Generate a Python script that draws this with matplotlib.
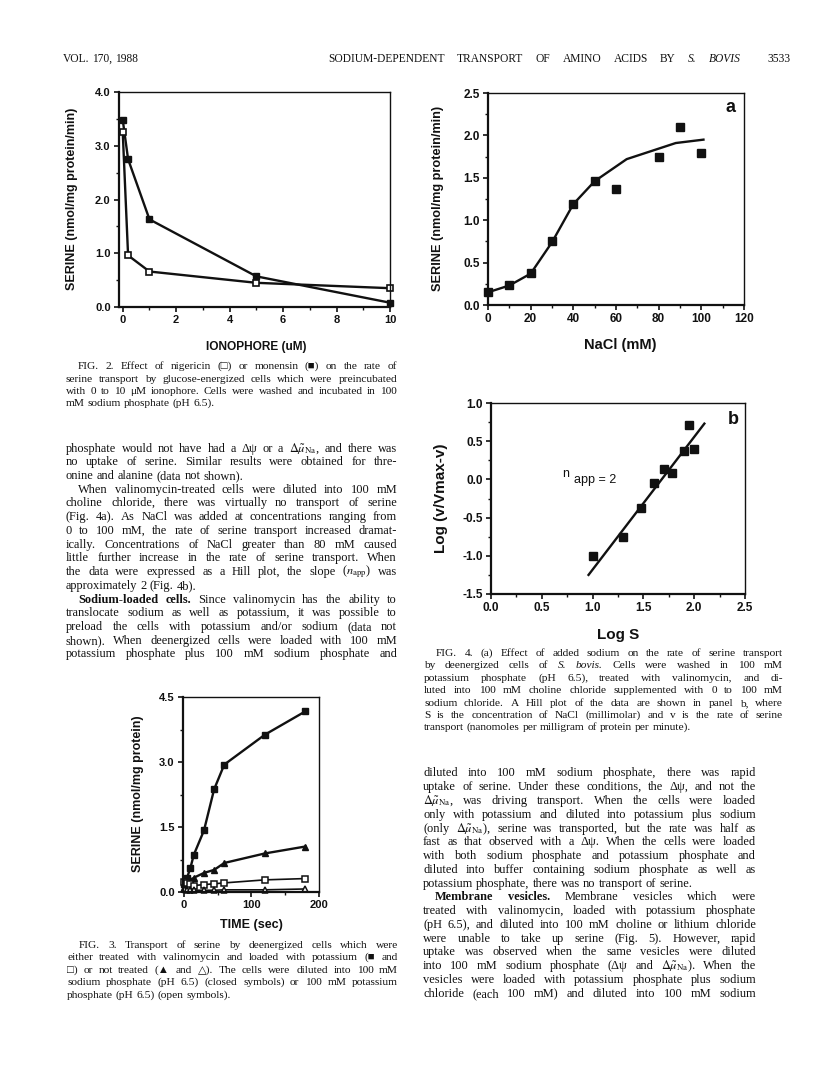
import matplotlib
matplotlib.use("Agg")
import matplotlib.pyplot as plt
from matplotlib.ticker import MultipleLocator, FormatStrFormatter

plt.rcParams['mathtext.fontset'] = 'stix'

W, H = 816, 1077
SERIF = 'Liberation Serif'
SERIF_FB = ['Liberation Serif', 'DejaVu Serif']
SANS = ['Liberation Sans', 'DejaVu Sans']
INK = '#111111'

# ---- FIG. 2: serine rate vs ionophore ----
iono_um = [0, 0.2, 1, 5, 10]
monensin = [3.48, 2.75, 1.63, 0.57, 0.08]
nigericin = [3.25, 0.96, 0.66, 0.45, 0.35]

# ---- FIG. 4a: serine rate vs NaCl ----
nacl_mm = [0, 10, 20, 30, 40, 50, 60, 80, 90, 100]
nacl_serine = [0.15, 0.23, 0.38, 0.75, 1.19, 1.46, 1.37, 1.74, 2.10, 1.79]
fit_nacl = [0, 10, 20, 30, 40, 50, 65, 88, 101]
fit_serine = [0.15, 0.23, 0.37, 0.74, 1.19, 1.46, 1.72, 1.91, 1.95]

# ---- FIG. 4b: Hill plot ----
log_s = [1.0, 1.30, 1.48, 1.60, 1.70, 1.78, 1.90, 1.95, 2.0]
log_v = [-1.0, -0.76, -0.37, -0.05, 0.14, 0.08, 0.37, 0.71, 0.40]
hill_x = [0.96, 2.10]
hill_y = [-1.25, 0.73]

# ---- FIG. 3: serine uptake vs time ----
time_s = [0, 5, 10, 15, 30, 45, 60, 120, 180]
val_na = [0.18, 0.33, 0.56, 0.86, 1.42, 2.37, 2.94, 3.63, 4.17]
noval_na = [0.10, 0.22, 0.27, 0.33, 0.44, 0.51, 0.67, 0.89, 1.05]
val_k = [0.24, 0.21, 0.18, 0.15, 0.17, 0.19, 0.21, 0.28, 0.31]
noval_k = [0.06, 0.05, 0.05, 0.04, 0.04, 0.04, 0.05, 0.05, 0.07]

fig = plt.figure(figsize=(W / 100, H / 100), dpi=100)
fig.patch.set_facecolor('white')
renderer = fig.canvas.get_renderer()


def px_axes(l, t, r, b):
    return fig.add_axes([l / W, 1 - b / H, (r - l) / W, (b - t) / H])


def setup(ax, xlim, ylim, xmaj, xmin, ymaj, ymin, xfmt, yfmt, size=8):
    ax.set_xlim(*xlim)
    ax.set_ylim(*ylim)
    ax.xaxis.set_major_locator(MultipleLocator(xmaj))
    ax.xaxis.set_minor_locator(MultipleLocator(xmin))
    ax.yaxis.set_major_locator(MultipleLocator(ymaj))
    ax.yaxis.set_minor_locator(MultipleLocator(ymin))
    ax.xaxis.set_major_formatter(FormatStrFormatter(xfmt))
    ax.yaxis.set_major_formatter(FormatStrFormatter(yfmt))
    ax.tick_params(which='major', length=3.5, width=1.2, direction='out',
                   labelsize=size, pad=2.5, colors=INK)
    ax.tick_params(which='minor', length=2.2, width=1.0, direction='out', colors=INK)
    for lab in ax.get_xticklabels() + ax.get_yticklabels():
        lab.set_fontweight('bold')
        lab.set_family(SANS)
    for s in ['left', 'bottom']:
        ax.spines[s].set_linewidth(1.6)
    for s in ['top', 'right']:
        ax.spines[s].set_linewidth(1.0)
    for s in ax.spines.values():
        s.set_color(INK)


def label(x, y, s, size, rot=0, weight='bold', ha='center', va='center'):
    fig.text(x / W, 1 - y / H, s, fontsize=size, rotation=rot, weight=weight,
             family=SANS, ha=ha, va=va, color=INK)


def styled(tok):
    # '**word' -> bold, '__word' -> italic
    if tok.startswith('**'):
        return tok[2:], dict(weight='bold')
    if tok.startswith('__'):
        return tok[2:], dict(style='italic')
    return tok, {}


def put_line(line, x0, x1, y, size, justify=True):
    # one text per word, spread to fill the column
    arts = []
    for tok in line.split(' '):
        s, extra = styled(tok)
        fam = SERIF_FB if any(c in s for c in '■□▲△') else SERIF
        arts.append(fig.text(x0 / W, 1 - y / H, s, fontsize=size, family=fam,
                             ha='left', va='baseline', color=INK, **extra))
    widths = [a.get_window_extent(renderer).width for a in arts]
    gap = size * 100 / 72 * 0.25
    if justify and len(arts) > 1:
        gap = (x1 - x0 - sum(widths)) / (len(arts) - 1)
    x = x0
    for a, w in zip(arts, widths):
        a.set_x(x / W)
        x += w + gap


def paragraph(lines, x0, x1, y0, step, size, indent=12, starts=(0,), lasts=()):
    for i, ln in enumerate(lines):
        xs = x0 + (indent if i in starts else 0)
        put_line(ln, xs, x1, round(y0 + i * step), size, justify=i not in lasts)


# ---- page header ----
put_line('VOL. 170, 1988', 63, 126, 62, 8.3, justify=False)
put_line('SODIUM-DEPENDENT TRANSPORT OF AMINO ACIDS BY __S. __BOVIS', 328, 741, 62, 8.3)
put_line('3533', 767, 786, 62, 8.3, justify=False)

# ---- FIG. 2 ----
ax2 = px_axes(119, 92, 390, 307)
ax2.plot(iono_um, monensin, '-s', color=INK, lw=1.7, ms=5, mfc=INK, mec=INK, clip_on=False)
ax2.plot(iono_um, nigericin, '-s', color=INK, lw=1.7, ms=5, mfc='white', mec=INK,
         mew=1.2, clip_on=False)
setup(ax2, (-0.14, 10), (0, 4), 2, 1, 1, 0.5, '%d', '%.1f')
label(72, 199, 'SERINE (nmol/mg protein/min)', 9, rot=90)
label(256, 347, 'IONOPHORE (uM)', 8.6)

# ---- FIG. 4a ----
ax4a = px_axes(488, 93, 744, 305)
ax4a.plot(fit_nacl, fit_serine, '-', color=INK, lw=1.7)
ax4a.plot(nacl_mm, nacl_serine, 's', color=INK, ms=5.2, clip_on=False)
setup(ax4a, (0, 120), (0, 2.5), 20, 10, 0.5, 0.25, '%d', '%.1f', size=8.5)
label(438, 198, 'SERINE (nmol/mg protein/min)', 9.2, rot=90)
label(620, 345, 'NaCl (mM)', 10.5)
label(731, 107, 'a', 13)

# ---- FIG. 4b ----
ax4b = px_axes(491, 403, 745, 594)
ax4b.plot(hill_x, hill_y, '-', color=INK, lw=1.7)
ax4b.plot(log_s, log_v, 's', color=INK, ms=5.2, clip_on=False)
setup(ax4b, (0, 2.5), (-1.5, 1.0), 0.5, 0.25, 0.5, 0.25, '%.1f', '%.1f', size=8.5)
label(441, 498, 'Log (v/Vmax-v)', 11, rot=90)
label(618, 635, 'Log S', 11)
label(733, 419, 'b', 13)
label(562, 477, 'n', 9, weight='normal', ha='left', va='baseline')
label(574, 483, 'app = 2', 9, weight='normal', ha='left', va='baseline')

# ---- FIG. 3 ----
ax3 = px_axes(183, 697, 319, 892)
ax3.plot(time_s, val_na, '-s', color=INK, lw=1.7, ms=4.5, clip_on=False)
ax3.plot(time_s, noval_na, '-^', color=INK, lw=1.7, ms=4.5, clip_on=False)
ax3.plot(time_s, val_k, '-s', color=INK, lw=1.2, ms=4.5, mfc='white', mew=1.1, clip_on=False)
ax3.plot(time_s, noval_k, '-^', color=INK, lw=1.2, ms=4.5, mfc='white', mew=1.1, clip_on=False)
setup(ax3, (-1, 200), (0, 4.5), 100, 50, 1.5, 0.75, '%d', '%.1f')
label(138, 794, 'SERINE (nmol/mg protein)', 9, rot=90)
label(251, 925, 'TIME (sec)', 9)

# ---- captions ----
cap2 = [
    'FIG. 2. Effect of nigericin (□) or monensin (■) on the rate of',
    'serine transport by glucose-energized cells which were preincubated',
    'with 0 to 10 μM ionophore. Cells were washed and incubated in 100',
    'mM sodium phosphate (pH 6.5).',
]
paragraph(cap2, 66, 397, 369, 12.5, 8.2, starts=(0,), lasts=(3,))

cap3 = [
    'FIG. 3. Transport of serine by deenergized cells which were',
    'either treated with valinomycin and loaded with potassium (■ and',
    '□) or not treated (▲ and △). The cells were diluted into 100 mM',
    'sodium phosphate (pH 6.5) (closed symbols) or 100 mM potassium',
    'phosphate (pH 6.5) (open symbols).',
]
paragraph(cap3, 67, 398, 948, 12.4, 8.2, starts=(0,), lasts=(4,))

cap4 = [
    'FIG. 4. (a) Effect of added sodium on the rate of serine transport',
    'by deenergized cells of __S. __bovis. Cells were washed in 100 mM',
    'potassium phosphate (pH 6.5), treated with valinomycin, and di-',
    'luted into 100 mM choline chloride supplemented with 0 to 100 mM',
    'sodium chloride. A Hill plot of the data are shown in panel b, where',
    'S is the concentration of NaCl (millimolar) and v is the rate of serine',
    'transport (nanomoles per milligram of protein per minute).',
]
paragraph(cap4, 424, 783, 656, 12.4, 8.2, starts=(0,), lasts=(6,))

# ---- body text ----
DMU = r'$\Delta\tilde{\mu}_{\mathrm{Na}}$'
left_body = [
    'phosphate would not have had a Δψ or a ' + DMU + ', and there was',
    'no uptake of serine. Similar results were obtained for thre-',
    'onine and alanine (data not shown).',
    'When valinomycin-treated cells were diluted into 100 mM',
    'choline chloride, there was virtually no transport of serine',
    '(Fig. 4a). As NaCl was added at concentrations ranging from',
    '0 to 100 mM, the rate of serine transport increased dramat-',
    'ically. Concentrations of NaCl greater than 80 mM caused',
    'little further increase in the rate of serine transport. When',
    r'the data were expressed as a Hill plot, the slope ($n_{\mathrm{app}}$) was',
    'approximately 2 (Fig. 4b).',
    '**Sodium-loaded **cells. Since valinomycin has the ability to',
    'translocate sodium as well as potassium, it was possible to',
    'preload the cells with potassium and/or sodium (data not',
    'shown). When deenergized cells were loaded with 100 mM',
    'potassium phosphate plus 100 mM sodium phosphate and',
]
paragraph(left_body, 66, 397, 451.5, 13.73, 8.9, starts=(3, 11), lasts=(2, 10))

right_body = [
    'diluted into 100 mM sodium phosphate, there was rapid',
    'uptake of serine. Under these conditions, the Δψ, and not the',
    DMU + ', was driving transport. When the cells were loaded',
    'only with potassium and diluted into potassium plus sodium',
    '(only ' + DMU + '), serine was transported, but the rate was half as',
    'fast as that observed with a Δψ. When the cells were loaded',
    'with both sodium phosphate and potassium phosphate and',
    'diluted into buffer containing sodium phosphate as well as',
    'potassium phosphate, there was no transport of serine.',
    '**Membrane **vesicles. Membrane vesicles which were',
    'treated with valinomycin, loaded with potassium phosphate',
    '(pH 6.5), and diluted into 100 mM choline or lithium chloride',
    'were unable to take up serine (Fig. 5). However, rapid',
    'uptake was observed when the same vesicles were diluted',
    'into 100 mM sodium phosphate (Δψ and ' + DMU + '). When the',
    'vesicles were loaded with potassium phosphate plus sodium',
    'chloride (each 100 mM) and diluted into 100 mM sodium',
]
paragraph(right_body, 423, 756, 776.5, 13.76, 8.9, starts=(9,), lasts=(8,))

fig.savefig('out.png', dpi=100, facecolor='white')
